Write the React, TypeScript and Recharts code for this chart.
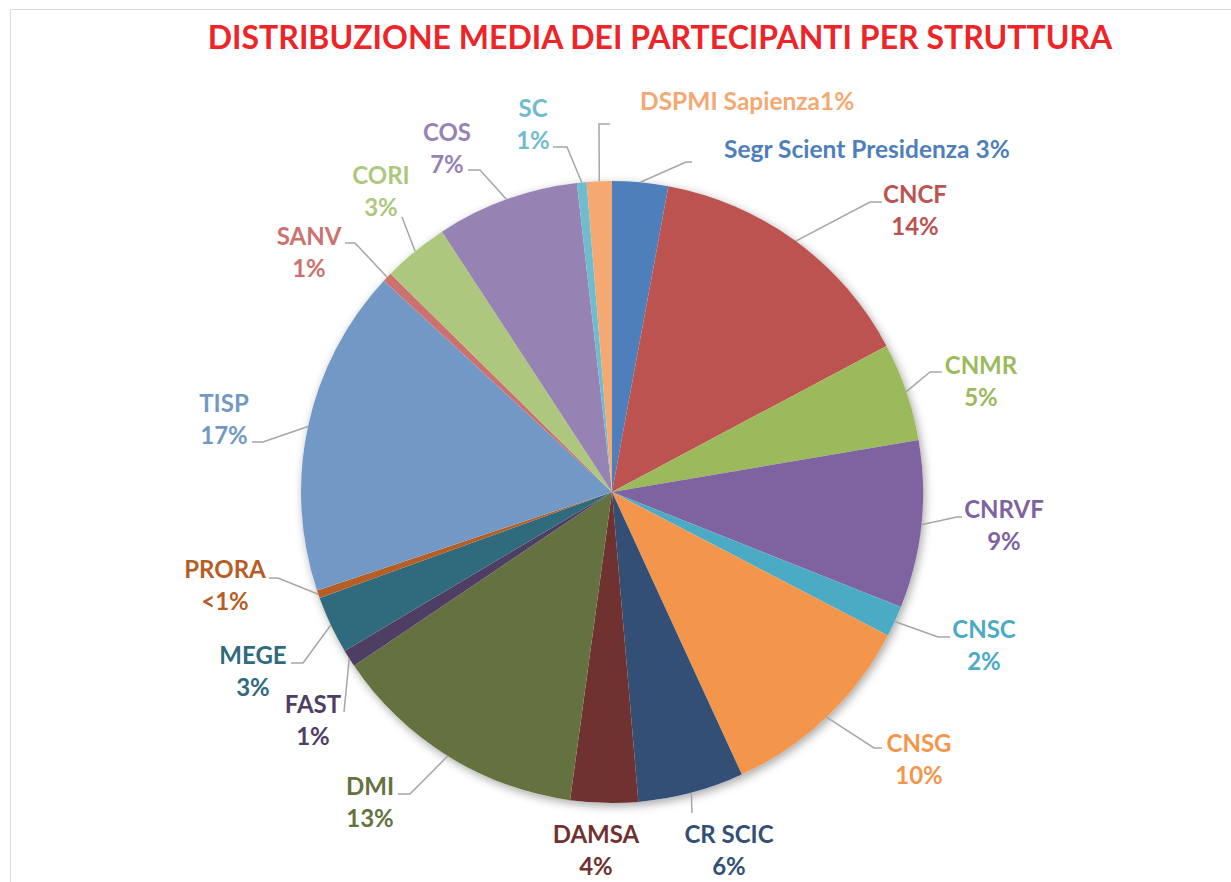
import * as React from "react";
import { PieChart, Pie, Cell, Sector } from "recharts";

// data (percent of participants)
const structures = [
  "Segr Scient Presidenza", "CNCF", "CNMR", "CNRVF", "CNSC", "CNSG", "CR SCIC", "DAMSA", "DMI",
  "FAST", "MEGE", "PRORA", "TISP", "SANV", "CORI", "COS", "SC", "DSPMI Sapienza",
];
const shares = [2.9, 14.3, 5.1, 8.7, 1.6, 10.5, 5.5, 3.5, 13.4, 0.9, 3.0, 0.4, 17.0, 0.5, 3.4, 7.4, 0.5, 1.3];
const shareLabels = ["3%", "14%", "5%", "9%", "2%", "10%", "6%", "4%", "13%", "1%", "3%", "<1%", "17%", "1%", "3%", "7%", "1%", "1%"];

const sliceColors = [
  "#4F7FBB", "#BC5350", "#9BBA5B", "#7F63A0", "#4BAAC4", "#F3964C", "#334F76", "#6F3230", "#64723F",
  "#4F3E63", "#2F6B7D", "#B65E26", "#7299C6", "#CB7270", "#AEC77E", "#9783B3", "#6FBCCF", "#F4A872",
];

const data = structures.map((name, i) => ({ name, value: shares[i], pct: shareLabels[i] }));

// label placement: [textX, baseline, elbowX, elbowY, endX, endY, singleLine]
const labelLayout: [number, number, number, number, number, number, boolean][] = [
  [724, 158, 686, 162, 692, 162, true],
  [915, 203, 870, 202, 882, 202, false],
  [981, 374, 930, 372, 942, 372, false],
  [1004, 518, 957, 517, 962, 517, false],
  [984, 638, 938, 637, 950, 637, false],
  [919, 752, 874, 748, 882, 748, false],
  [729, 843, 692, 813, 692, 813, false],
  [596, 843, 0, 0, 0, 0, false],
  [370, 795, 410, 794, 398, 794, false],
  [313, 713, 344, 712, 344, 712, false],
  [253, 664, 303, 663, 291, 663, false],
  [225, 578, 278, 578, 269, 578, false],
  [224, 412, 263, 442, 252, 442, false],
  [309, 245, 355, 243, 345, 243, false],
  [381, 184, 402, 217, 402, 217, false],
  [447, 141, 480, 170, 468, 170, false],
  [533, 117, 567, 147, 553, 147, false],
  [640, 110, 599, 124, 610, 124, true],
];

const RAD = Math.PI / 180;
const FONT = "Lato, 'Open Sans', sans-serif";

function renderLabel(props: any) {
  const { cx, cy, midAngle, outerRadius, index } = props;
  const [tx, ty, ex, ey, lx, ly, single] = labelLayout[index];
  const color = sliceColors[index];
  const sx = cx + outerRadius * Math.cos(-midAngle * RAD);
  const sy = cy + outerRadius * Math.sin(-midAngle * RAD);
  const name = structures[index];
  return (
    <g key={`lbl-${index}`}>
      {ex !== 0 && (
        <polyline points={`${sx},${sy} ${ex},${ey} ${lx},${ly}`} fill="none" stroke="#A6A6A6" strokeWidth={1.5} />
      )}
      {single ? (
        <text x={tx} y={ty} textAnchor="start" fill={color} fontFamily={FONT} fontWeight={700} fontSize={24.5}>
          {index === 17 ? `${name}${data[index].pct}` : `${name} ${data[index].pct}`}
        </text>
      ) : (
        <text textAnchor="middle" fill={color} fontFamily={FONT} fontWeight={700} fontSize={24}>
          <tspan x={tx} y={ty}>{name}</tspan>
          <tspan x={tx} y={ty + 32}>{data[index].pct}</tspan>
        </text>
      )}
    </g>
  );
}

const shadowShape = (props: any) => (
  <Sector {...props} style={{ filter: "drop-shadow(2px 3px 5px rgba(0,0,0,0.35))" }} />
);

export default function App() {
  return (
    <div style={{ position: "absolute", left: 0, top: 0, width: 1231, height: 882, background: "#fff", overflow: "hidden" }}>
      <div style={{ position: "absolute", left: 10, top: 9, width: 1240, height: 900, border: "1.5px solid #D9D9D9" }} />
      <PieChart width={1231} height={882} margin={{ top: 0, right: 0, bottom: 0, left: 0 }}>
        <text x={660} y={49} textAnchor="middle" fill="#ED2428" fontFamily={FONT} fontWeight={700} fontSize={32}>
          DISTRIBUZIONE MEDIA DEI PARTECIPANTI PER STRUTTURA
        </text>
        <Pie
          data={[{ name: "bg", value: 1 }]}
          dataKey="value"
          cx={612}
          cy={492}
          outerRadius={311}
          startAngle={90}
          endAngle={-270}
          fill="#fff"
          stroke="none"
          shape={shadowShape}
          isAnimationActive={false}
        />
        <Pie
          data={data}
          dataKey="value"
          cx={612}
          cy={492}
          outerRadius={311}
          startAngle={90}
          endAngle={-270}
          stroke="none"
          label={renderLabel}
          labelLine={false}
          isAnimationActive={false}
        >
          {data.map((entry, idx) => (
            <Cell key={`cell-${idx}`} fill={sliceColors[idx]} />
          ))}
        </Pie>
      </PieChart>
    </div>
  );
}
